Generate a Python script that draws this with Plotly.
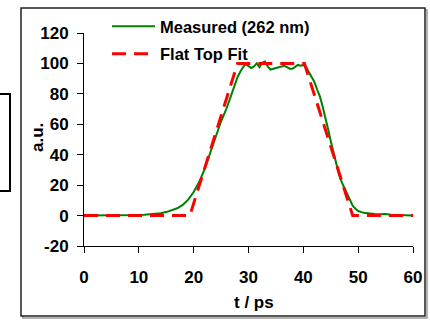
import plotly.graph_objects as go

# Measured pulse (262 nm)
t_meas = [0, 1, 2, 3, 4, 5, 6, 7, 8, 9, 10, 11, 12, 13, 14, 15, 16, 17, 18, 19,
          20, 21, 22, 23, 24, 25, 26, 27, 28, 28.5, 29, 29.5, 30, 30.5, 31, 31.5,
          32, 32.5, 33, 33.5, 34, 34.5, 35, 35.5, 36, 36.5, 37, 37.5, 38, 38.5,
          39, 39.5, 40, 40.5, 41, 41.5, 42, 42.5, 43, 43.5, 44, 44.5, 45, 45.5,
          46, 46.5, 47, 47.5, 48, 48.5, 49, 49.5, 50, 51, 52, 53, 54, 55, 56, 57,
          58, 59, 60]
v_meas = [0, 0, 0, 0, 0, 0, 0, 0.1, 0.3, 0.4, 0.4, 0.6, 0.8, 1.0, 1.6, 2.3, 3.3, 4.8, 7.0, 10.5,
          15.5, 22, 30.5, 41, 52, 62, 70.5, 81, 91, 94.5, 97.5, 99.5, 98.5, 97, 98, 100,
          97.5, 100.5, 101.3, 98, 96, 96.5, 96.5, 97, 97.5, 98.5, 97.5, 96.5, 96.5, 98,
          99, 98.5, 99, 97.5, 94.5, 91, 88, 83, 78.5, 72, 65, 57, 49, 42,
          34, 27, 22, 18, 14, 10, 6.5, 4.5, 3, 1.8, 1.3, 1.0, 0.8, 1.0, 0.6, 0.4,
          0.3, 0.2, 0.1]

# Flat top fit
t_fit = [0, 19.3, 28.0, 40.2, 49.0, 60]
v_fit = [0, 0, 100, 100, 0, 0]

x_ticks = [0, 10, 20, 30, 40, 50, 60]
y_ticks = [-20, 0, 20, 40, 60, 80, 100, 120]

FONT = "Liberation Sans, Arial, sans-serif"

fig = go.Figure()
fig.add_trace(go.Scatter(x=t_meas, y=v_meas, mode="lines", name="Measured (262 nm)",
                         line=dict(color="#008000", width=2), legendgroup="a"))
fig.add_trace(go.Scatter(x=t_fit, y=v_fit, mode="lines", name="Flat Top Fit",
                         line=dict(color="#FF0000", width=3, dash="14px,8px"),
                         legendgroup="b"))

L, R, T, B = 84, 17, 33, 74
W, H = 430, 320
pw, ph = W - L - R, H - T - B

def px(x):
    return (x - L) / pw

def py(y):
    return (H - B - y) / ph

shapes = [
    # outer chart border (with slight shadow)
    dict(type="rect", xref="paper", yref="paper", x0=px(23), x1=px(427), y0=py(10), y1=py(318),
         line=dict(color="#9a9a9a", width=1.5)),
    dict(type="rect", xref="paper", yref="paper", x0=px(21), x1=px(425), y0=py(8), y1=py(316),
         line=dict(color="#222222", width=1.5), fillcolor="white"),
    # stray box at left edge
    dict(type="path", xref="paper", yref="paper",
         path=f"M {px(-2)},{py(94)} L {px(10)},{py(94)} L {px(10)},{py(191)} L {px(-2)},{py(191)}",
         line=dict(color="black", width=2)),
]
for s in shapes:
    s["layer"] = "below"

annotations = [
    dict(text="a.u.", xref="paper", yref="paper", x=px(37), y=py(138),
         xanchor="center", yanchor="middle", textangle=-90, showarrow=False,
         font=dict(size=17, weight="bold")),
    dict(text="t / ps", xref="paper", yref="paper", x=px(254), y=py(302),
         xanchor="center", yanchor="middle", showarrow=False,
         font=dict(size=17, weight="bold")),
]

fig.update_layout(
    width=W, height=H,
    margin=dict(l=L, r=R, t=T, b=B, autoexpand=False),
    paper_bgcolor="white", plot_bgcolor="rgba(0,0,0,0)",
    font=dict(family=FONT, size=17, color="black", weight="bold"),
    shapes=shapes,
    annotations=annotations,
    showlegend=True,
    legend=dict(x=px(107), y=py(9), xanchor="left", yanchor="top",
                bgcolor="rgba(0,0,0,0)", font=dict(size=16.5, weight="bold"),
                itemwidth=43, tracegroupgap=3, traceorder="grouped"),
    xaxis=dict(range=[0, 60], tickvals=x_ticks, ticktext=[str(v) for v in x_ticks],
               showgrid=False, zeroline=False, showline=True, linecolor="black", linewidth=1,
               ticks="outside", ticklen=6, tickcolor="black", tickwidth=1,
               ticklabelstandoff=10,
               tickfont=dict(size=17, weight="bold")),
    yaxis=dict(range=[-20, 120], tickvals=y_ticks, ticktext=[str(v) for v in y_ticks],
               showgrid=False, zeroline=False, showline=True, linecolor="black", linewidth=1,
               ticks="outside", ticklen=6, tickcolor="black", tickwidth=1,
               ticklabelstandoff=5,
               tickfont=dict(size=17, weight="bold")),
)

fig.write_html("out.html",
               config={"displayModeBar": False},
               post_script="document.body.style.margin='0';document.body.style.overflow='hidden';")
